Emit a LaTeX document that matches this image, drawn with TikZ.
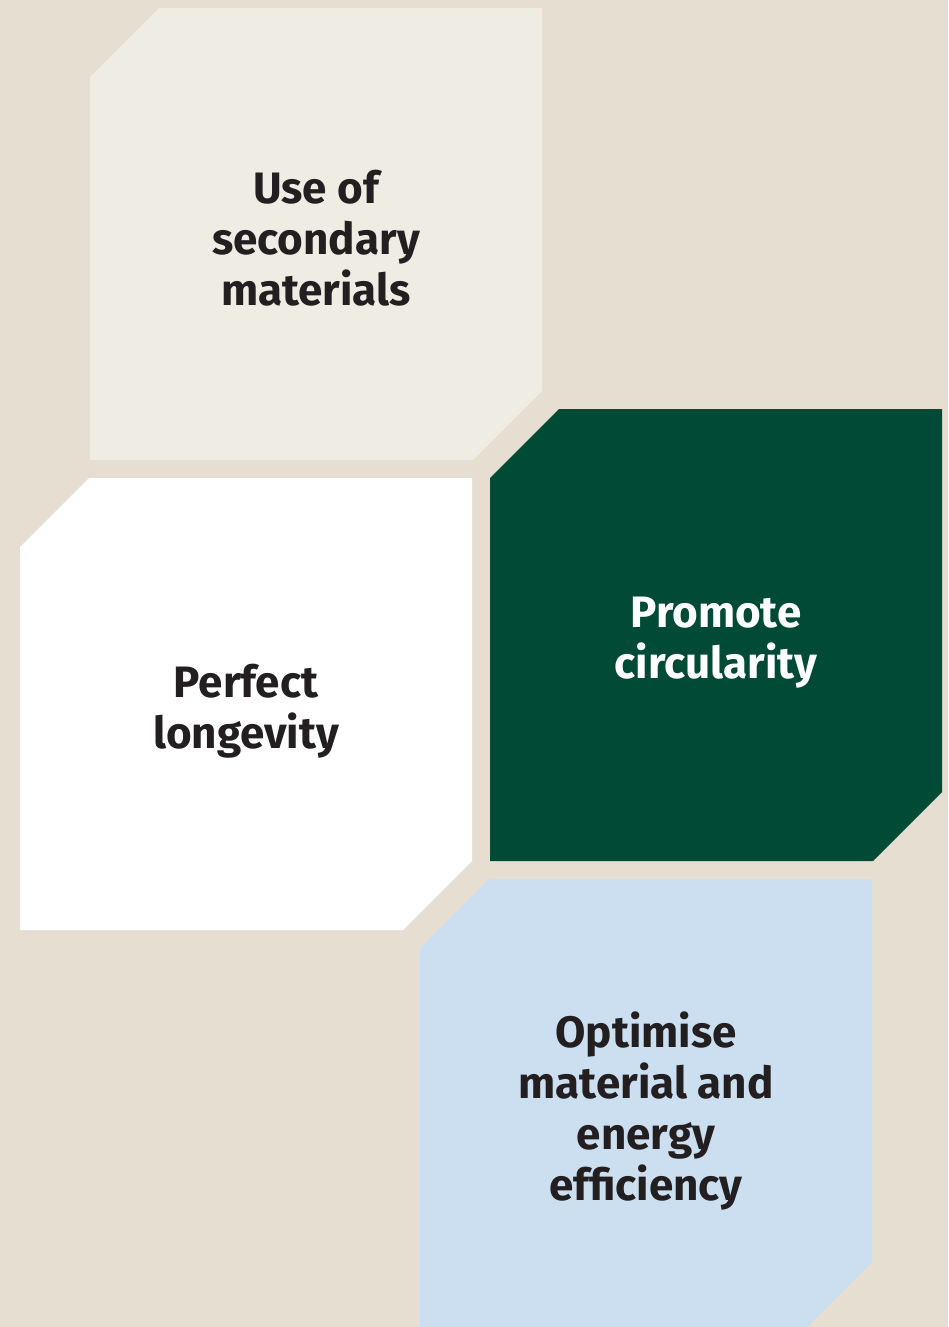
\documentclass[tikz,border=0pt]{standalone}
\usepackage{fontspec}
\setmainfont{Fira Sans}
\usepackage{tikz}

\definecolor{paper}{HTML}{E6DED1}
\definecolor{stone}{HTML}{EFECE4}
\definecolor{forest}{HTML}{014A36}
\definecolor{sky}{HTML}{CCDFF0}
\definecolor{ink}{HTML}{231F20}

\tikzset{
  label/.style={align=center,text=ink,font=\bfseries\fontsize{44}{51}\selectfont}
}

\begin{document}
\begin{tikzpicture}[x=1pt,y=-1pt]
  \useasboundingbox (0,0) rectangle (948,1327);
  \clip (0,0) rectangle (948,1327);
  \fill [paper] (0,0) rectangle (948,1327);

  % use of secondary materials
  \fill [stone] (159,8) -- (542,8) -- (542,391) -- (473,460) -- (90,460) -- (90,77) -- cycle;
  \node [label] (secondary) at (316,238) {Use of\\secondary\\materials};

  % perfect longevity
  \fill [white] (89,478) -- (472,478) -- (472,861) -- (403,930) -- (20,930) -- (20,547) -- cycle;
  \node [label] (longevity) at (246,711) {Perfect\\longevity};

  % promote circularity
  \fill [forest] (559,409) -- (942,409) -- (942,792) -- (873,861) -- (490,861) -- (490,478) -- cycle;
  \node [label,text=white] (circularity) at (716,643) {Promote\\circularity};

  % optimise material and energy efficiency
  \fill [sky] (489,879) -- (872,879) -- (872,1262) -- (803,1331) -- (420,1331) -- (420,948) -- cycle;
  \node [label] (efficiency) at (646,1111) {Optimise\\material and\\energy\\efficiency};
\end{tikzpicture}
\end{document}
